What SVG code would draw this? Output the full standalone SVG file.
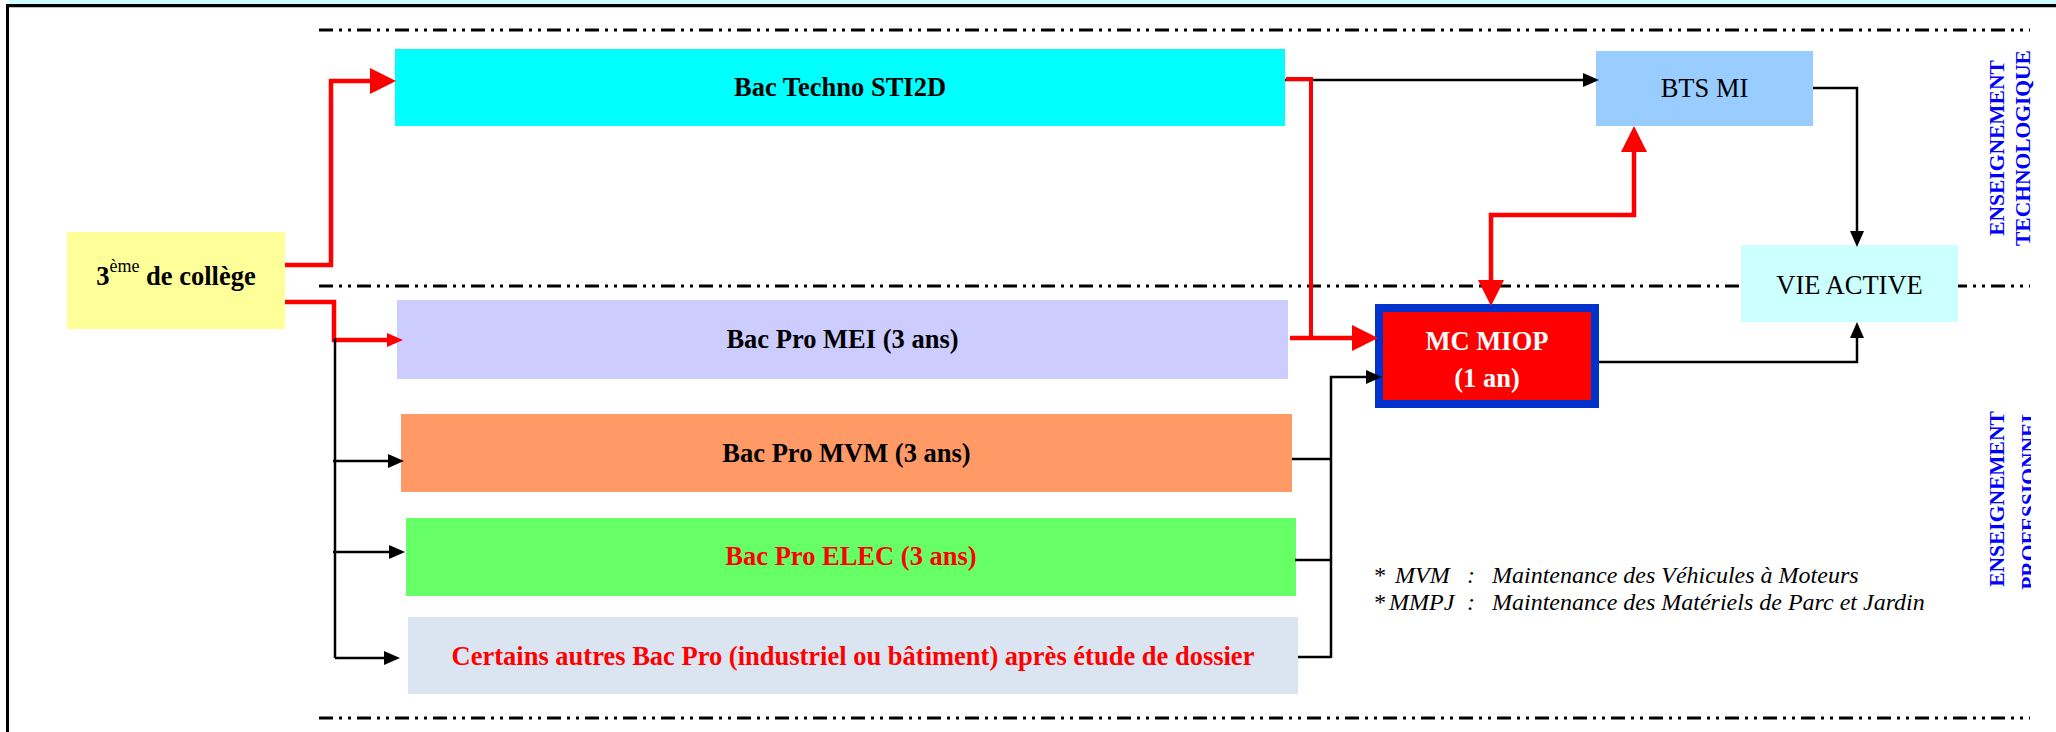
<svg xmlns="http://www.w3.org/2000/svg" width="2056" height="732" viewBox="0 0 2056 732">
<style>
text{font-family:'Liberation Serif','Times New Roman','DejaVu Serif',serif}
.lbl{font-weight:bold;font-size:26.5px;text-anchor:middle}
.reg{font-size:26.5px;text-anchor:middle;fill:#000}
.side{font-weight:bold;font-size:21.5px;text-anchor:middle;fill:#0000FF}
.leg{font-style:italic;font-size:24px;fill:#000}
.dash{stroke:#000;stroke-width:3;fill:none;stroke-dasharray:14 6 3 6 3 6}
.red{stroke:#FF0000;stroke-width:4.5;fill:none;stroke-linejoin:miter}
.redt{stroke:#FF0000;stroke-width:4;fill:none}
.blk{stroke:#000;stroke-width:2.5;fill:none}
</style>
<defs>
<marker id="aRedBig" markerUnits="userSpaceOnUse" markerWidth="27" markerHeight="26" refX="1" refY="13" orient="auto-start-reverse"><path d="M0,0 L26,13 L0,26 Z" fill="#FF0000"/></marker>
<marker id="aRedSm" markerUnits="userSpaceOnUse" markerWidth="17" markerHeight="14" refX="1" refY="7" orient="auto"><path d="M0,0 L16,7 L0,14 Z" fill="#FF0000"/></marker>
<marker id="aBlk" markerUnits="userSpaceOnUse" markerWidth="17" markerHeight="14" refX="1" refY="7" orient="auto"><path d="M0,0 L16,7 L0,14 Z" fill="#000"/></marker>
<clipPath id="clipR"><rect x="1960" y="380" width="71" height="240"/></clipPath>
</defs>

<g id="frame">
<rect x="9" y="0" width="2047" height="4" fill="#CCFFFF"/>
<line x1="6" y1="5.7" x2="2056" y2="5.7" stroke="#000" stroke-width="3.3"/>
<line x1="7.5" y1="4" x2="7.5" y2="732" stroke="#000" stroke-width="3"/>
</g>

<g id="separators">
<line class="dash" x1="319" y1="30" x2="2030" y2="30"/>
<line class="dash" x1="319" y1="286" x2="2030" y2="286"/>
<line class="dash" x1="319" y1="718" x2="2030" y2="718"/>
</g>

<g id="n-college">
<rect x="67" y="232" width="218" height="97" fill="#FFFF99"/>
<text x="176" y="285" class="lbl" fill="#000">3<tspan font-size="18" font-weight="normal" dy="-13">ème</tspan><tspan dy="13"> de collège</tspan></text>
</g>
<g id="n-sti2d">
<rect x="395" y="49" width="890" height="77" fill="#00FFFF"/>
<text x="840" y="96" class="lbl" fill="#000">Bac Techno STI2D</text>
</g>
<g id="n-btsmi">
<rect x="1596" y="51" width="217" height="75" fill="#99CCFF"/>
<text x="1704.5" y="97" class="reg">BTS MI</text>
</g>
<g id="n-vie">
<rect x="1741" y="245" width="217" height="77" fill="#CCFFFF"/>
<text x="1849.5" y="294" class="reg">VIE ACTIVE</text>
</g>
<g id="n-mei">
<rect x="397" y="300" width="891" height="79" fill="#CCCCFF"/>
<text x="842.5" y="348" class="lbl" fill="#000">Bac Pro MEI (3 ans)</text>
</g>
<g id="n-mcmiop">
<rect x="1379" y="308" width="216" height="96" fill="#FF0000" stroke="#0033CC" stroke-width="8"/>
<text x="1487" y="350" class="lbl" fill="#FFFFFF" font-size="31.5">MC MIOP</text>
<text x="1487" y="387" class="lbl" fill="#FFFFFF" font-size="31.5">(1 an)</text>
</g>
<g id="n-mvm">
<rect x="401" y="414" width="891" height="78" fill="#FF9966"/>
<text x="846.5" y="462" class="lbl" fill="#000">Bac Pro MVM (3 ans)</text>
</g>
<g id="n-elec">
<rect x="406" y="518" width="890" height="78" fill="#66FF66"/>
<text x="851" y="565" class="lbl" fill="#FF0000">Bac Pro ELEC (3 ans)</text>
</g>
<g id="n-autres">
<rect x="408" y="617" width="890" height="77" fill="#DBE5F1"/>
<text x="853" y="665" class="lbl" fill="#FF0000">Certains autres Bac Pro (industriel ou bâtiment) après étude de dossier</text>
</g>

<g id="connectors">
<path class="red" d="M285,265 H331 V81 H371" marker-end="url(#aRedBig)"/>
<path class="red" d="M285,302 H334 V340 H388" marker-end="url(#aRedSm)"/>
<path class="blk" d="M335,338 V658"/>
<path class="blk" d="M333,461 H389" marker-end="url(#aBlk)"/>
<path class="blk" d="M333,552 H390" marker-end="url(#aBlk)"/>
<path class="blk" d="M335,658 H385" marker-end="url(#aBlk)"/>
<path class="blk" d="M1285,80 H1584" marker-end="url(#aBlk)"/>
<path class="redt" d="M1286,79 H1311 V338"/>
<path class="red" d="M1290,338 H1353" marker-end="url(#aRedBig)"/>
<path class="red" d="M1634,151 V215 H1491 V281" marker-start="url(#aRedBig)" marker-end="url(#aRedBig)"/>
<path class="blk" d="M1813,88 H1857 V232" marker-end="url(#aBlk)"/>
<path class="blk" d="M1599,362 H1857 V337" marker-end="url(#aBlk)"/>
<path class="blk" d="M1292,459 H1331"/>
<path class="blk" d="M1295,560 H1331"/>
<path class="blk" d="M1298,657 H1331"/>
<path class="blk" d="M1331,658 V377 H1367" marker-end="url(#aBlk)"/>
</g>

<g id="legend">
<text class="leg" y="583"><tspan x="1373">*</tspan><tspan x="1395">MVM</tspan><tspan x="1467">:</tspan><tspan x="1492">Maintenance des Véhicules à Moteurs</tspan></text>
<text class="leg" y="610"><tspan x="1373">*</tspan><tspan x="1389">MMPJ</tspan><tspan x="1467">:</tspan><tspan x="1492">Maintenance des Matériels de Parc et Jardin</tspan></text>
</g>

<g id="side-labels">
<text class="side" transform="translate(2004,148) rotate(-90)">ENSEIGNEMENT</text>
<text class="side" transform="translate(2030,148) rotate(-90)">TECHNOLOGIQUE</text>
<text class="side" transform="translate(2004,499) rotate(-90)">ENSEIGNEMENT</text>
<g clip-path="url(#clipR)"><text class="side" transform="translate(2036,499) rotate(-90)">PROFESSIONNEL</text></g>
</g>
</svg>
